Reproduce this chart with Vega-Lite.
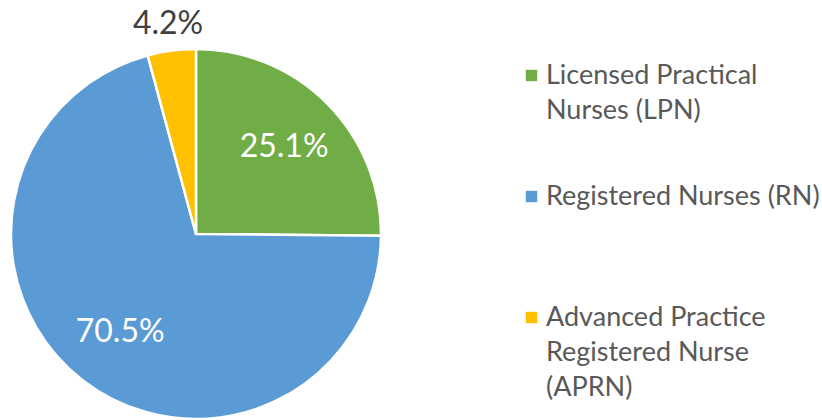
{
  "$schema": "https://vega.github.io/schema/vega-lite/v6.json",
  "width": 392,
  "height": 420,
  "autosize": "none",
  "padding": {"top": 24, "left": 0, "right": 430, "bottom": 0},
  "background": "white",
  "config": {"view": {"stroke": null}, "font": "Lato", "style": {"guide-label": {"lineHeight": 35}}},
  "data": {
    "values": [
      {"cat": "Licensed Practical|Nurses (LPN)", "share": 0.251, "order": 1},
      {"cat": "Registered Nurses (RN)| ", "share": 0.705, "order": 2},
      {"cat": "Advanced Practice|Registered Nurse|(APRN)", "share": 0.042, "order": 3}
    ]
  },
  "encoding": {
    "theta": {"field": "share", "type": "quantitative", "stack": true},
    "order": {"field": "order", "type": "ordinal"},
    "color": {
      "field": "cat",
      "type": "nominal",
      "scale": {
        "domain": ["Licensed Practical|Nurses (LPN)", "Registered Nurses (RN)| ", "Advanced Practice|Registered Nurse|(APRN)"],
        "range": ["#70AD47", "#5B9BD5", "#FFC000"]
      },
      "legend": {
        "title": null,
        "orient": "none",
        "legendX": 518,
        "legendY": 38,
        "labelExpr": "split(datum.label, '|')",
        "labelFontSize": 27,
        "labelColor": "#595959",
        "labelFont": "Lato",
        "labelLimit": 400,
        "symbolType": "square",
        "symbolSize": 130,
        "symbolStrokeWidth": 0,
        "labelOffset": 1,
        "rowPadding": 58
      }
    }
  },
  "layer": [
    {
      "mark": {"type": "arc", "outerRadius": 185, "stroke": "white", "strokeWidth": 2.5}
    },
    {
      "mark": {"type": "text", "radius": 124, "fontSize": 32, "font": "Lato"},
      "encoding": {
        "text": {"field": "share", "type": "quantitative", "format": ".1%"},
        "color": {"value": "white"},
        "opacity": {"condition": {"test": "datum.order < 3", "value": 1}, "value": 0}
      }
    },
    {
      "mark": {"type": "text", "radius": 212, "fontSize": 32, "font": "Lato"},
      "encoding": {
        "text": {"field": "share", "type": "quantitative", "format": ".1%"},
        "color": {"value": "#404040"},
        "opacity": {"condition": {"test": "datum.order == 3", "value": 1}, "value": 0}
      }
    }
  ]
}
